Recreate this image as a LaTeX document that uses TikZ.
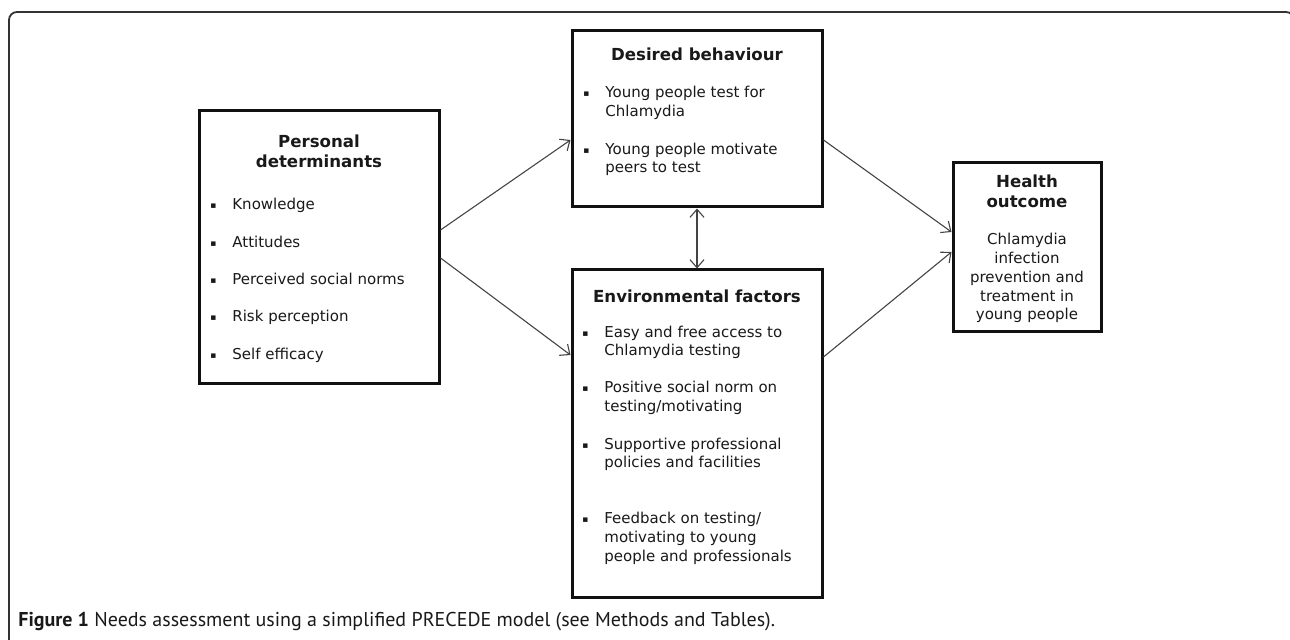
\documentclass[tikz,border=0pt]{standalone}
\usepackage{fontspec}
\setmainfont{DejaVu Sans}
\newfontfamily\capfont{PT Sans}
\usetikzlibrary{arrows.meta}
\definecolor{boxline}{HTML}{111111}
\definecolor{arrowgray}{HTML}{444444}
\definecolor{framegray}{HTML}{333333}
\tikzset{
  box/.style={draw=boxline, line width=1.5pt, fill=white, inner sep=0pt},
  body/.style={font=\fontsize{7.5pt}{9.5pt}\selectfont, inner sep=0pt, anchor=base west, text=black!90},
  ttl/.style={font=\bfseries\fontsize{8.3pt}{10pt}\selectfont, inner sep=0pt, anchor=base, text=black!90},
  ctr/.style={font=\fontsize{7.5pt}{9.5pt}\selectfont, inner sep=0pt, anchor=base, text=black!90},
  conn/.style={draw=arrowgray, line width=0.55pt, -{Straight Barb[length=4pt,width=7pt]}},
  conn2/.style={draw=arrowgray, line width=0.55pt, {Straight Barb[length=4pt,width=7pt]}-{Straight Barb[length=4pt,width=7pt]}},
  frame/.style={draw=framegray, line width=0.9pt, rounded corners=4pt},
}
\newcommand{\bul}{\llap{\raisebox{0.6pt}{\fontsize{4.5pt}{5pt}\selectfont ▪}\hspace{8pt}}}
\begin{document}
\begin{tikzpicture}[x=0.5pt,y=-0.5pt]
\useasboundingbox (0,0) rectangle (1290,640);
\clip (0,0) rectangle (1290,640);
\draw[frame] (9,660) -- (9,12) -- (1294,12) -- (1294,660);

% boxes
\node[box, minimum width=120pt, minimum height=136.5pt] (pd) at (319,247.5) {};
\node[box, minimum width=125pt, minimum height=88pt] (db) at (697,119) {};
\node[box, minimum width=125pt, minimum height=164pt] (ef) at (697,434) {};
\node[box, minimum width=74pt, minimum height=84.5pt] (ho) at (1027,247.5) {};

% Personal determinants
\node[ttl] (pdt1) at (319,148) {Personal};
\node[ttl] (pdt2) at (319,168) {determinants};
\node[body] (pd1) at (232,210) {\bul Knowledge};
\node[body] (pd2) at (232,248) {\bul Attitudes};
\node[body] (pd3) at (232,285) {\bul Perceived social norms};
\node[body] (pd4) at (232,322) {\bul Risk perception};
\node[body] (pd5) at (232,360) {\bul Self efficacy};

% Desired behaviour
\node[ttl] (dbt) at (697,61) {Desired behaviour};
\node[body] (db1a) at (605,98) {\bul Young people test for};
\node[body] (db1b) at (605,117) {Chlamydia};
\node[body] (db2a) at (605,155) {\bul Young people motivate};
\node[body] (db2b) at (605,173) {peers to test};

% Environmental factors
\node[ttl] (eft) at (697,303) {Environmental factors};
\node[body] (ef1a) at (604,338) {\bul Easy and free access to};
\node[body] (ef1b) at (604,356) {Chlamydia testing};
\node[body] (ef2a) at (604,393) {\bul Positive social norm on};
\node[body] (ef2b) at (604,412) {testing/motivating};
\node[body] (ef3a) at (604,450) {\bul Supportive professional};
\node[body] (ef3b) at (604,468) {policies and facilities};
\node[body] (ef4a) at (604,524) {\bul Feedback on testing/};
\node[body] (ef4b) at (604,543) {motivating to young};
\node[body] (ef4c) at (604,562) {people and professionals};

% Health outcome
\node[ttl] (hot1) at (1027,188) {Health};
\node[ttl] (hot2) at (1027,208) {outcome};
\node[ctr] (ho1) at (1027,245) {Chlamydia};
\node[ctr] (ho2) at (1027,264) {infection};
\node[ctr] (ho3) at (1027,283) {prevention and};
\node[ctr] (ho4) at (1027,302) {treatment in};
\node[ctr] (ho5) at (1027,320) {young people};

% connectors
\draw[conn] ([yshift=8.75pt]pd.east) -- ([yshift=-10.5pt]db.west);
\draw[conn] ([yshift=-5.25pt]pd.east) -- ([yshift=39.5pt]ef.west);
\draw[conn] ([yshift=-10.5pt]db.east) -- ([yshift=7.75pt]ho.west);
\draw[conn] ([yshift=38.5pt]ef.east) -- ([yshift=-2.25pt]ho.west);
\draw[conn2] (db.south) -- (ef.north);

% caption
\node[font=\capfont\fontsize{10pt}{12pt}\selectfont, inner sep=0pt, anchor=base west, text=black!90] (cap) at (18,626) {\textbf{Figure 1} Needs assessment using a simplified PRECEDE model (see Methods and Tables).};
\end{tikzpicture}
\end{document}
